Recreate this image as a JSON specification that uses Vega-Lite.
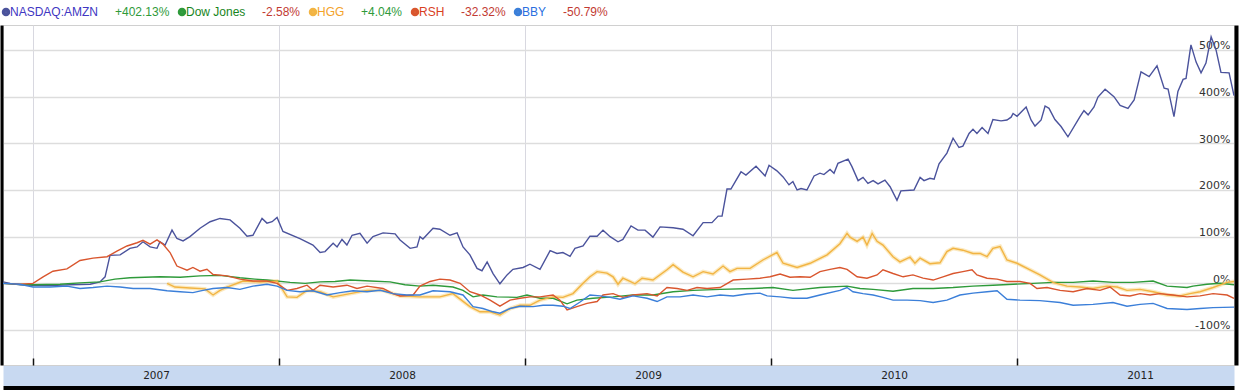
{
  "$schema": "https://vega.github.io/schema/vega-lite/v6.json",
  "width": 1231,
  "height": 340,
  "autosize": "none",
  "padding": {"left": 3, "top": 25, "right": 7, "bottom": 25},
  "background": "white",
  "config": {"view": {"stroke": "#d0d0d0", "strokeWidth": 1}},
  "resolve": {"axis": {"x": "independent", "y": "independent"}},
  "datasets": {
    "stocks": [
        {"stock":"NASDAQ:AMZN","time":2006.878,"pct":3},{"stock":"NASDAQ:AMZN","time":2006.907,"pct":0},{"stock":"NASDAQ:AMZN","time":2006.947,"pct":-3},{"stock":"NASDAQ:AMZN","time":2007.0,"pct":-4},{"stock":"NASDAQ:AMZN","time":2007.069,"pct":-5},{"stock":"NASDAQ:AMZN","time":2007.15,"pct":-3},{"stock":"NASDAQ:AMZN","time":2007.232,"pct":-2},{"stock":"NASDAQ:AMZN","time":2007.272,"pct":3},{"stock":"NASDAQ:AMZN","time":2007.293,"pct":14},{"stock":"NASDAQ:AMZN","time":2007.313,"pct":60},{"stock":"NASDAQ:AMZN","time":2007.354,"pct":61},{"stock":"NASDAQ:AMZN","time":2007.394,"pct":75},{"stock":"NASDAQ:AMZN","time":2007.423,"pct":78},{"stock":"NASDAQ:AMZN","time":2007.447,"pct":89},{"stock":"NASDAQ:AMZN","time":2007.476,"pct":78},{"stock":"NASDAQ:AMZN","time":2007.504,"pct":75},{"stock":"NASDAQ:AMZN","time":2007.516,"pct":89},{"stock":"NASDAQ:AMZN","time":2007.537,"pct":82},{"stock":"NASDAQ:AMZN","time":2007.565,"pct":114},{"stock":"NASDAQ:AMZN","time":2007.585,"pct":96},{"stock":"NASDAQ:AMZN","time":2007.61,"pct":91},{"stock":"NASDAQ:AMZN","time":2007.638,"pct":100},{"stock":"NASDAQ:AMZN","time":2007.679,"pct":118},{"stock":"NASDAQ:AMZN","time":2007.72,"pct":132},{"stock":"NASDAQ:AMZN","time":2007.76,"pct":139},{"stock":"NASDAQ:AMZN","time":2007.801,"pct":136},{"stock":"NASDAQ:AMZN","time":2007.841,"pct":118},{"stock":"NASDAQ:AMZN","time":2007.87,"pct":101},{"stock":"NASDAQ:AMZN","time":2007.894,"pct":103},{"stock":"NASDAQ:AMZN","time":2007.931,"pct":139},{"stock":"NASDAQ:AMZN","time":2007.951,"pct":129},{"stock":"NASDAQ:AMZN","time":2007.972,"pct":132},{"stock":"NASDAQ:AMZN","time":2007.992,"pct":141},{"stock":"NASDAQ:AMZN","time":2008.016,"pct":111},{"stock":"NASDAQ:AMZN","time":2008.085,"pct":96},{"stock":"NASDAQ:AMZN","time":2008.138,"pct":82},{"stock":"NASDAQ:AMZN","time":2008.167,"pct":66},{"stock":"NASDAQ:AMZN","time":2008.187,"pct":68},{"stock":"NASDAQ:AMZN","time":2008.22,"pct":86},{"stock":"NASDAQ:AMZN","time":2008.236,"pct":78},{"stock":"NASDAQ:AMZN","time":2008.256,"pct":94},{"stock":"NASDAQ:AMZN","time":2008.276,"pct":82},{"stock":"NASDAQ:AMZN","time":2008.297,"pct":103},{"stock":"NASDAQ:AMZN","time":2008.329,"pct":107},{"stock":"NASDAQ:AMZN","time":2008.358,"pct":86},{"stock":"NASDAQ:AMZN","time":2008.382,"pct":100},{"stock":"NASDAQ:AMZN","time":2008.423,"pct":108},{"stock":"NASDAQ:AMZN","time":2008.472,"pct":106},{"stock":"NASDAQ:AMZN","time":2008.492,"pct":93},{"stock":"NASDAQ:AMZN","time":2008.533,"pct":75},{"stock":"NASDAQ:AMZN","time":2008.561,"pct":78},{"stock":"NASDAQ:AMZN","time":2008.573,"pct":100},{"stock":"NASDAQ:AMZN","time":2008.585,"pct":95},{"stock":"NASDAQ:AMZN","time":2008.626,"pct":118},{"stock":"NASDAQ:AMZN","time":2008.654,"pct":116},{"stock":"NASDAQ:AMZN","time":2008.695,"pct":103},{"stock":"NASDAQ:AMZN","time":2008.724,"pct":108},{"stock":"NASDAQ:AMZN","time":2008.748,"pct":78},{"stock":"NASDAQ:AMZN","time":2008.776,"pct":61},{"stock":"NASDAQ:AMZN","time":2008.805,"pct":32},{"stock":"NASDAQ:AMZN","time":2008.825,"pct":27},{"stock":"NASDAQ:AMZN","time":2008.846,"pct":46},{"stock":"NASDAQ:AMZN","time":2008.87,"pct":21},{"stock":"NASDAQ:AMZN","time":2008.898,"pct":-1},{"stock":"NASDAQ:AMZN","time":2008.927,"pct":18},{"stock":"NASDAQ:AMZN","time":2008.951,"pct":30},{"stock":"NASDAQ:AMZN","time":2008.992,"pct":34},{"stock":"NASDAQ:AMZN","time":2009.02,"pct":41},{"stock":"NASDAQ:AMZN","time":2009.061,"pct":30},{"stock":"NASDAQ:AMZN","time":2009.102,"pct":70},{"stock":"NASDAQ:AMZN","time":2009.13,"pct":64},{"stock":"NASDAQ:AMZN","time":2009.154,"pct":66},{"stock":"NASDAQ:AMZN","time":2009.183,"pct":58},{"stock":"NASDAQ:AMZN","time":2009.203,"pct":75},{"stock":"NASDAQ:AMZN","time":2009.236,"pct":80},{"stock":"NASDAQ:AMZN","time":2009.264,"pct":101},{"stock":"NASDAQ:AMZN","time":2009.293,"pct":101},{"stock":"NASDAQ:AMZN","time":2009.317,"pct":114},{"stock":"NASDAQ:AMZN","time":2009.346,"pct":100},{"stock":"NASDAQ:AMZN","time":2009.378,"pct":89},{"stock":"NASDAQ:AMZN","time":2009.398,"pct":94},{"stock":"NASDAQ:AMZN","time":2009.431,"pct":123},{"stock":"NASDAQ:AMZN","time":2009.459,"pct":114},{"stock":"NASDAQ:AMZN","time":2009.488,"pct":114},{"stock":"NASDAQ:AMZN","time":2009.52,"pct":99},{"stock":"NASDAQ:AMZN","time":2009.549,"pct":121},{"stock":"NASDAQ:AMZN","time":2009.602,"pct":119},{"stock":"NASDAQ:AMZN","time":2009.642,"pct":116},{"stock":"NASDAQ:AMZN","time":2009.683,"pct":102},{"stock":"NASDAQ:AMZN","time":2009.724,"pct":130},{"stock":"NASDAQ:AMZN","time":2009.76,"pct":130},{"stock":"NASDAQ:AMZN","time":2009.785,"pct":144},{"stock":"NASDAQ:AMZN","time":2009.801,"pct":144},{"stock":"NASDAQ:AMZN","time":2009.821,"pct":202},{"stock":"NASDAQ:AMZN","time":2009.837,"pct":202},{"stock":"NASDAQ:AMZN","time":2009.878,"pct":239},{"stock":"NASDAQ:AMZN","time":2009.898,"pct":232},{"stock":"NASDAQ:AMZN","time":2009.939,"pct":251},{"stock":"NASDAQ:AMZN","time":2009.976,"pct":230},{"stock":"NASDAQ:AMZN","time":2009.992,"pct":253},{"stock":"NASDAQ:AMZN","time":2010.024,"pct":241},{"stock":"NASDAQ:AMZN","time":2010.049,"pct":228},{"stock":"NASDAQ:AMZN","time":2010.073,"pct":211},{"stock":"NASDAQ:AMZN","time":2010.089,"pct":218},{"stock":"NASDAQ:AMZN","time":2010.106,"pct":200},{"stock":"NASDAQ:AMZN","time":2010.122,"pct":203},{"stock":"NASDAQ:AMZN","time":2010.146,"pct":200},{"stock":"NASDAQ:AMZN","time":2010.175,"pct":230},{"stock":"NASDAQ:AMZN","time":2010.199,"pct":236},{"stock":"NASDAQ:AMZN","time":2010.215,"pct":233},{"stock":"NASDAQ:AMZN","time":2010.24,"pct":244},{"stock":"NASDAQ:AMZN","time":2010.256,"pct":236},{"stock":"NASDAQ:AMZN","time":2010.272,"pct":257},{"stock":"NASDAQ:AMZN","time":2010.313,"pct":266},{"stock":"NASDAQ:AMZN","time":2010.329,"pct":250},{"stock":"NASDAQ:AMZN","time":2010.354,"pct":220},{"stock":"NASDAQ:AMZN","time":2010.374,"pct":227},{"stock":"NASDAQ:AMZN","time":2010.394,"pct":214},{"stock":"NASDAQ:AMZN","time":2010.415,"pct":220},{"stock":"NASDAQ:AMZN","time":2010.435,"pct":213},{"stock":"NASDAQ:AMZN","time":2010.463,"pct":221},{"stock":"NASDAQ:AMZN","time":2010.484,"pct":207},{"stock":"NASDAQ:AMZN","time":2010.512,"pct":178},{"stock":"NASDAQ:AMZN","time":2010.528,"pct":198},{"stock":"NASDAQ:AMZN","time":2010.581,"pct":200},{"stock":"NASDAQ:AMZN","time":2010.606,"pct":227},{"stock":"NASDAQ:AMZN","time":2010.622,"pct":220},{"stock":"NASDAQ:AMZN","time":2010.646,"pct":225},{"stock":"NASDAQ:AMZN","time":2010.663,"pct":223},{"stock":"NASDAQ:AMZN","time":2010.683,"pct":256},{"stock":"NASDAQ:AMZN","time":2010.715,"pct":279},{"stock":"NASDAQ:AMZN","time":2010.74,"pct":311},{"stock":"NASDAQ:AMZN","time":2010.764,"pct":291},{"stock":"NASDAQ:AMZN","time":2010.78,"pct":294},{"stock":"NASDAQ:AMZN","time":2010.805,"pct":321},{"stock":"NASDAQ:AMZN","time":2010.821,"pct":330},{"stock":"NASDAQ:AMZN","time":2010.837,"pct":321},{"stock":"NASDAQ:AMZN","time":2010.858,"pct":334},{"stock":"NASDAQ:AMZN","time":2010.882,"pct":321},{"stock":"NASDAQ:AMZN","time":2010.902,"pct":351},{"stock":"NASDAQ:AMZN","time":2010.935,"pct":348},{"stock":"NASDAQ:AMZN","time":2010.959,"pct":350},{"stock":"NASDAQ:AMZN","time":2010.976,"pct":356},{"stock":"NASDAQ:AMZN","time":2010.984,"pct":364},{"stock":"NASDAQ:AMZN","time":2011.0,"pct":358},{"stock":"NASDAQ:AMZN","time":2011.037,"pct":378},{"stock":"NASDAQ:AMZN","time":2011.057,"pct":350},{"stock":"NASDAQ:AMZN","time":2011.073,"pct":337},{"stock":"NASDAQ:AMZN","time":2011.098,"pct":350},{"stock":"NASDAQ:AMZN","time":2011.114,"pct":380},{"stock":"NASDAQ:AMZN","time":2011.13,"pct":375},{"stock":"NASDAQ:AMZN","time":2011.154,"pct":351},{"stock":"NASDAQ:AMZN","time":2011.179,"pct":336},{"stock":"NASDAQ:AMZN","time":2011.207,"pct":314},{"stock":"NASDAQ:AMZN","time":2011.256,"pct":357},{"stock":"NASDAQ:AMZN","time":2011.272,"pct":370},{"stock":"NASDAQ:AMZN","time":2011.289,"pct":361},{"stock":"NASDAQ:AMZN","time":2011.313,"pct":378},{"stock":"NASDAQ:AMZN","time":2011.329,"pct":399},{"stock":"NASDAQ:AMZN","time":2011.358,"pct":416},{"stock":"NASDAQ:AMZN","time":2011.394,"pct":400},{"stock":"NASDAQ:AMZN","time":2011.419,"pct":381},{"stock":"NASDAQ:AMZN","time":2011.451,"pct":375},{"stock":"NASDAQ:AMZN","time":2011.476,"pct":393},{"stock":"NASDAQ:AMZN","time":2011.504,"pct":453},{"stock":"NASDAQ:AMZN","time":2011.537,"pct":443},{"stock":"NASDAQ:AMZN","time":2011.569,"pct":466},{"stock":"NASDAQ:AMZN","time":2011.598,"pct":418},{"stock":"NASDAQ:AMZN","time":2011.614,"pct":416},{"stock":"NASDAQ:AMZN","time":2011.638,"pct":357},{"stock":"NASDAQ:AMZN","time":2011.654,"pct":411},{"stock":"NASDAQ:AMZN","time":2011.675,"pct":437},{"stock":"NASDAQ:AMZN","time":2011.687,"pct":439},{"stock":"NASDAQ:AMZN","time":2011.707,"pct":511},{"stock":"NASDAQ:AMZN","time":2011.728,"pct":474},{"stock":"NASDAQ:AMZN","time":2011.748,"pct":451},{"stock":"NASDAQ:AMZN","time":2011.768,"pct":472},{"stock":"NASDAQ:AMZN","time":2011.789,"pct":528},{"stock":"NASDAQ:AMZN","time":2011.809,"pct":500},{"stock":"NASDAQ:AMZN","time":2011.829,"pct":452},{"stock":"NASDAQ:AMZN","time":2011.862,"pct":451},{"stock":"NASDAQ:AMZN","time":2011.882,"pct":402},
        {"stock":"Dow Jones","time":2006.878,"pct":0},{"stock":"Dow Jones","time":2006.927,"pct":-2},{"stock":"Dow Jones","time":2007.0,"pct":-3},{"stock":"Dow Jones","time":2007.11,"pct":-2},{"stock":"Dow Jones","time":2007.191,"pct":1},{"stock":"Dow Jones","time":2007.272,"pct":3},{"stock":"Dow Jones","time":2007.333,"pct":9},{"stock":"Dow Jones","time":2007.394,"pct":12},{"stock":"Dow Jones","time":2007.516,"pct":14},{"stock":"Dow Jones","time":2007.598,"pct":13},{"stock":"Dow Jones","time":2007.679,"pct":16},{"stock":"Dow Jones","time":2007.76,"pct":17},{"stock":"Dow Jones","time":2007.841,"pct":12},{"stock":"Dow Jones","time":2007.902,"pct":9},{"stock":"Dow Jones","time":2007.951,"pct":7},{"stock":"Dow Jones","time":2008.045,"pct":2},{"stock":"Dow Jones","time":2008.106,"pct":0},{"stock":"Dow Jones","time":2008.167,"pct":3},{"stock":"Dow Jones","time":2008.228,"pct":4},{"stock":"Dow Jones","time":2008.289,"pct":7},{"stock":"Dow Jones","time":2008.37,"pct":5},{"stock":"Dow Jones","time":2008.451,"pct":3},{"stock":"Dow Jones","time":2008.512,"pct":-3},{"stock":"Dow Jones","time":2008.573,"pct":-6},{"stock":"Dow Jones","time":2008.626,"pct":-4},{"stock":"Dow Jones","time":2008.707,"pct":-8},{"stock":"Dow Jones","time":2008.748,"pct":-15},{"stock":"Dow Jones","time":2008.789,"pct":-29},{"stock":"Dow Jones","time":2008.829,"pct":-25},{"stock":"Dow Jones","time":2008.886,"pct":-29},{"stock":"Dow Jones","time":2008.967,"pct":-30},{"stock":"Dow Jones","time":2009.008,"pct":-25},{"stock":"Dow Jones","time":2009.061,"pct":-32},{"stock":"Dow Jones","time":2009.114,"pct":-32},{"stock":"Dow Jones","time":2009.171,"pct":-44},{"stock":"Dow Jones","time":2009.211,"pct":-36},{"stock":"Dow Jones","time":2009.276,"pct":-32},{"stock":"Dow Jones","time":2009.358,"pct":-29},{"stock":"Dow Jones","time":2009.439,"pct":-25},{"stock":"Dow Jones","time":2009.52,"pct":-25},{"stock":"Dow Jones","time":2009.602,"pct":-18},{"stock":"Dow Jones","time":2009.683,"pct":-15},{"stock":"Dow Jones","time":2009.793,"pct":-13},{"stock":"Dow Jones","time":2009.927,"pct":-11},{"stock":"Dow Jones","time":2010.008,"pct":-9},{"stock":"Dow Jones","time":2010.089,"pct":-15},{"stock":"Dow Jones","time":2010.199,"pct":-9},{"stock":"Dow Jones","time":2010.309,"pct":-6},{"stock":"Dow Jones","time":2010.362,"pct":-11},{"stock":"Dow Jones","time":2010.415,"pct":-13},{"stock":"Dow Jones","time":2010.496,"pct":-17},{"stock":"Dow Jones","time":2010.577,"pct":-11},{"stock":"Dow Jones","time":2010.659,"pct":-11},{"stock":"Dow Jones","time":2010.74,"pct":-9},{"stock":"Dow Jones","time":2010.821,"pct":-6},{"stock":"Dow Jones","time":2010.902,"pct":-4},{"stock":"Dow Jones","time":2010.984,"pct":-2},{"stock":"Dow Jones","time":2011.065,"pct":0},{"stock":"Dow Jones","time":2011.146,"pct":2},{"stock":"Dow Jones","time":2011.228,"pct":2},{"stock":"Dow Jones","time":2011.309,"pct":5},{"stock":"Dow Jones","time":2011.39,"pct":2},{"stock":"Dow Jones","time":2011.472,"pct":2},{"stock":"Dow Jones","time":2011.553,"pct":5},{"stock":"Dow Jones","time":2011.61,"pct":-6},{"stock":"Dow Jones","time":2011.691,"pct":-9},{"stock":"Dow Jones","time":2011.715,"pct":-6},{"stock":"Dow Jones","time":2011.772,"pct":-2},{"stock":"Dow Jones","time":2011.825,"pct":0},{"stock":"Dow Jones","time":2011.882,"pct":-3},
        {"stock":"HGG","time":2007.545,"pct":0},{"stock":"HGG","time":2007.577,"pct":-8},{"stock":"HGG","time":2007.638,"pct":-10},{"stock":"HGG","time":2007.699,"pct":-12},{"stock":"HGG","time":2007.732,"pct":-25},{"stock":"HGG","time":2007.76,"pct":-15},{"stock":"HGG","time":2007.789,"pct":-8},{"stock":"HGG","time":2007.854,"pct":5},{"stock":"HGG","time":2007.923,"pct":3},{"stock":"HGG","time":2007.992,"pct":5},{"stock":"HGG","time":2008.033,"pct":-29},{"stock":"HGG","time":2008.073,"pct":-30},{"stock":"HGG","time":2008.114,"pct":-15},{"stock":"HGG","time":2008.167,"pct":-18},{"stock":"HGG","time":2008.22,"pct":-29},{"stock":"HGG","time":2008.289,"pct":-22},{"stock":"HGG","time":2008.358,"pct":-15},{"stock":"HGG","time":2008.423,"pct":-15},{"stock":"HGG","time":2008.492,"pct":-27},{"stock":"HGG","time":2008.573,"pct":-29},{"stock":"HGG","time":2008.654,"pct":-29},{"stock":"HGG","time":2008.707,"pct":-22},{"stock":"HGG","time":2008.776,"pct":-50},{"stock":"HGG","time":2008.817,"pct":-61},{"stock":"HGG","time":2008.858,"pct":-61},{"stock":"HGG","time":2008.898,"pct":-68},{"stock":"HGG","time":2008.939,"pct":-54},{"stock":"HGG","time":2008.98,"pct":-47},{"stock":"HGG","time":2009.02,"pct":-47},{"stock":"HGG","time":2009.061,"pct":-36},{"stock":"HGG","time":2009.114,"pct":-29},{"stock":"HGG","time":2009.154,"pct":-30},{"stock":"HGG","time":2009.195,"pct":-22},{"stock":"HGG","time":2009.236,"pct":0},{"stock":"HGG","time":2009.264,"pct":14},{"stock":"HGG","time":2009.293,"pct":25},{"stock":"HGG","time":2009.333,"pct":22},{"stock":"HGG","time":2009.358,"pct":14},{"stock":"HGG","time":2009.378,"pct":-2},{"stock":"HGG","time":2009.398,"pct":11},{"stock":"HGG","time":2009.427,"pct":4},{"stock":"HGG","time":2009.447,"pct":-1},{"stock":"HGG","time":2009.476,"pct":11},{"stock":"HGG","time":2009.52,"pct":7},{"stock":"HGG","time":2009.577,"pct":29},{"stock":"HGG","time":2009.602,"pct":40},{"stock":"HGG","time":2009.642,"pct":24},{"stock":"HGG","time":2009.683,"pct":14},{"stock":"HGG","time":2009.724,"pct":25},{"stock":"HGG","time":2009.764,"pct":20},{"stock":"HGG","time":2009.805,"pct":37},{"stock":"HGG","time":2009.833,"pct":25},{"stock":"HGG","time":2009.862,"pct":32},{"stock":"HGG","time":2009.915,"pct":32},{"stock":"HGG","time":2009.967,"pct":50},{"stock":"HGG","time":2010.024,"pct":66},{"stock":"HGG","time":2010.049,"pct":43},{"stock":"HGG","time":2010.106,"pct":34},{"stock":"HGG","time":2010.159,"pct":43},{"stock":"HGG","time":2010.228,"pct":61},{"stock":"HGG","time":2010.28,"pct":85},{"stock":"HGG","time":2010.309,"pct":107},{"stock":"HGG","time":2010.321,"pct":99},{"stock":"HGG","time":2010.35,"pct":90},{"stock":"HGG","time":2010.374,"pct":99},{"stock":"HGG","time":2010.39,"pct":82},{"stock":"HGG","time":2010.411,"pct":107},{"stock":"HGG","time":2010.431,"pct":90},{"stock":"HGG","time":2010.455,"pct":82},{"stock":"HGG","time":2010.496,"pct":57},{"stock":"HGG","time":2010.524,"pct":46},{"stock":"HGG","time":2010.565,"pct":56},{"stock":"HGG","time":2010.585,"pct":43},{"stock":"HGG","time":2010.606,"pct":54},{"stock":"HGG","time":2010.646,"pct":42},{"stock":"HGG","time":2010.687,"pct":44},{"stock":"HGG","time":2010.715,"pct":68},{"stock":"HGG","time":2010.74,"pct":75},{"stock":"HGG","time":2010.78,"pct":71},{"stock":"HGG","time":2010.821,"pct":64},{"stock":"HGG","time":2010.85,"pct":64},{"stock":"HGG","time":2010.878,"pct":57},{"stock":"HGG","time":2010.902,"pct":75},{"stock":"HGG","time":2010.931,"pct":79},{"stock":"HGG","time":2010.959,"pct":50},{"stock":"HGG","time":2011.0,"pct":43},{"stock":"HGG","time":2011.053,"pct":29},{"stock":"HGG","time":2011.093,"pct":18},{"stock":"HGG","time":2011.146,"pct":2},{"stock":"HGG","time":2011.203,"pct":-6},{"stock":"HGG","time":2011.256,"pct":-8},{"stock":"HGG","time":2011.309,"pct":-11},{"stock":"HGG","time":2011.366,"pct":-6},{"stock":"HGG","time":2011.407,"pct":-8},{"stock":"HGG","time":2011.447,"pct":-15},{"stock":"HGG","time":2011.5,"pct":-13},{"stock":"HGG","time":2011.553,"pct":-18},{"stock":"HGG","time":2011.61,"pct":-25},{"stock":"HGG","time":2011.663,"pct":-27},{"stock":"HGG","time":2011.703,"pct":-22},{"stock":"HGG","time":2011.744,"pct":-18},{"stock":"HGG","time":2011.797,"pct":-9},{"stock":"HGG","time":2011.854,"pct":2},{"stock":"HGG","time":2011.882,"pct":4},
        {"stock":"RSH","time":2006.878,"pct":0},{"stock":"RSH","time":2006.947,"pct":-2},{"stock":"RSH","time":2007.0,"pct":0},{"stock":"RSH","time":2007.041,"pct":14},{"stock":"RSH","time":2007.081,"pct":26},{"stock":"RSH","time":2007.138,"pct":31},{"stock":"RSH","time":2007.191,"pct":49},{"stock":"RSH","time":2007.244,"pct":54},{"stock":"RSH","time":2007.301,"pct":57},{"stock":"RSH","time":2007.341,"pct":69},{"stock":"RSH","time":2007.382,"pct":80},{"stock":"RSH","time":2007.423,"pct":87},{"stock":"RSH","time":2007.447,"pct":92},{"stock":"RSH","time":2007.476,"pct":84},{"stock":"RSH","time":2007.504,"pct":93},{"stock":"RSH","time":2007.528,"pct":84},{"stock":"RSH","time":2007.557,"pct":66},{"stock":"RSH","time":2007.585,"pct":37},{"stock":"RSH","time":2007.626,"pct":28},{"stock":"RSH","time":2007.65,"pct":34},{"stock":"RSH","time":2007.679,"pct":26},{"stock":"RSH","time":2007.707,"pct":30},{"stock":"RSH","time":2007.732,"pct":19},{"stock":"RSH","time":2007.789,"pct":16},{"stock":"RSH","time":2007.841,"pct":9},{"stock":"RSH","time":2007.894,"pct":5},{"stock":"RSH","time":2007.951,"pct":5},{"stock":"RSH","time":2007.992,"pct":0},{"stock":"RSH","time":2008.033,"pct":-15},{"stock":"RSH","time":2008.073,"pct":-11},{"stock":"RSH","time":2008.114,"pct":-4},{"stock":"RSH","time":2008.138,"pct":-15},{"stock":"RSH","time":2008.167,"pct":-4},{"stock":"RSH","time":2008.22,"pct":-8},{"stock":"RSH","time":2008.276,"pct":-4},{"stock":"RSH","time":2008.317,"pct":-11},{"stock":"RSH","time":2008.358,"pct":-6},{"stock":"RSH","time":2008.423,"pct":-11},{"stock":"RSH","time":2008.463,"pct":-22},{"stock":"RSH","time":2008.492,"pct":-27},{"stock":"RSH","time":2008.545,"pct":-25},{"stock":"RSH","time":2008.573,"pct":-6},{"stock":"RSH","time":2008.614,"pct":4},{"stock":"RSH","time":2008.654,"pct":9},{"stock":"RSH","time":2008.695,"pct":7},{"stock":"RSH","time":2008.736,"pct":0},{"stock":"RSH","time":2008.776,"pct":-18},{"stock":"RSH","time":2008.817,"pct":-25},{"stock":"RSH","time":2008.858,"pct":-36},{"stock":"RSH","time":2008.898,"pct":-49},{"stock":"RSH","time":2008.939,"pct":-36},{"stock":"RSH","time":2008.98,"pct":-32},{"stock":"RSH","time":2009.02,"pct":-29},{"stock":"RSH","time":2009.061,"pct":-29},{"stock":"RSH","time":2009.114,"pct":-25},{"stock":"RSH","time":2009.142,"pct":-36},{"stock":"RSH","time":2009.171,"pct":-57},{"stock":"RSH","time":2009.211,"pct":-50},{"stock":"RSH","time":2009.252,"pct":-43},{"stock":"RSH","time":2009.293,"pct":-39},{"stock":"RSH","time":2009.317,"pct":-25},{"stock":"RSH","time":2009.358,"pct":-22},{"stock":"RSH","time":2009.398,"pct":-30},{"stock":"RSH","time":2009.439,"pct":-25},{"stock":"RSH","time":2009.496,"pct":-22},{"stock":"RSH","time":2009.537,"pct":-27},{"stock":"RSH","time":2009.577,"pct":-9},{"stock":"RSH","time":2009.618,"pct":-11},{"stock":"RSH","time":2009.659,"pct":-15},{"stock":"RSH","time":2009.699,"pct":-9},{"stock":"RSH","time":2009.74,"pct":-11},{"stock":"RSH","time":2009.793,"pct":-9},{"stock":"RSH","time":2009.846,"pct":7},{"stock":"RSH","time":2009.902,"pct":9},{"stock":"RSH","time":2009.955,"pct":11},{"stock":"RSH","time":2009.996,"pct":14},{"stock":"RSH","time":2010.037,"pct":20},{"stock":"RSH","time":2010.077,"pct":13},{"stock":"RSH","time":2010.118,"pct":14},{"stock":"RSH","time":2010.159,"pct":13},{"stock":"RSH","time":2010.199,"pct":25},{"stock":"RSH","time":2010.24,"pct":30},{"stock":"RSH","time":2010.28,"pct":34},{"stock":"RSH","time":2010.309,"pct":30},{"stock":"RSH","time":2010.35,"pct":14},{"stock":"RSH","time":2010.39,"pct":11},{"stock":"RSH","time":2010.431,"pct":18},{"stock":"RSH","time":2010.455,"pct":29},{"stock":"RSH","time":2010.496,"pct":21},{"stock":"RSH","time":2010.537,"pct":14},{"stock":"RSH","time":2010.577,"pct":18},{"stock":"RSH","time":2010.618,"pct":11},{"stock":"RSH","time":2010.659,"pct":7},{"stock":"RSH","time":2010.699,"pct":14},{"stock":"RSH","time":2010.74,"pct":21},{"stock":"RSH","time":2010.78,"pct":25},{"stock":"RSH","time":2010.817,"pct":29},{"stock":"RSH","time":2010.837,"pct":18},{"stock":"RSH","time":2010.878,"pct":11},{"stock":"RSH","time":2010.919,"pct":9},{"stock":"RSH","time":2010.959,"pct":4},{"stock":"RSH","time":2011.012,"pct":4},{"stock":"RSH","time":2011.053,"pct":0},{"stock":"RSH","time":2011.081,"pct":-11},{"stock":"RSH","time":2011.122,"pct":-9},{"stock":"RSH","time":2011.175,"pct":-15},{"stock":"RSH","time":2011.228,"pct":-18},{"stock":"RSH","time":2011.285,"pct":-11},{"stock":"RSH","time":2011.337,"pct":-15},{"stock":"RSH","time":2011.378,"pct":-8},{"stock":"RSH","time":2011.419,"pct":-25},{"stock":"RSH","time":2011.459,"pct":-27},{"stock":"RSH","time":2011.5,"pct":-22},{"stock":"RSH","time":2011.541,"pct":-25},{"stock":"RSH","time":2011.581,"pct":-22},{"stock":"RSH","time":2011.634,"pct":-25},{"stock":"RSH","time":2011.691,"pct":-29},{"stock":"RSH","time":2011.744,"pct":-27},{"stock":"RSH","time":2011.797,"pct":-22},{"stock":"RSH","time":2011.854,"pct":-25},{"stock":"RSH","time":2011.882,"pct":-32},
        {"stock":"BBY","time":2006.878,"pct":0},{"stock":"BBY","time":2006.947,"pct":-2},{"stock":"BBY","time":2007.0,"pct":-8},{"stock":"BBY","time":2007.069,"pct":-8},{"stock":"BBY","time":2007.138,"pct":-6},{"stock":"BBY","time":2007.191,"pct":-11},{"stock":"BBY","time":2007.244,"pct":-9},{"stock":"BBY","time":2007.301,"pct":-6},{"stock":"BBY","time":2007.354,"pct":-8},{"stock":"BBY","time":2007.407,"pct":-11},{"stock":"BBY","time":2007.476,"pct":-11},{"stock":"BBY","time":2007.545,"pct":-16},{"stock":"BBY","time":2007.598,"pct":-18},{"stock":"BBY","time":2007.65,"pct":-20},{"stock":"BBY","time":2007.691,"pct":-15},{"stock":"BBY","time":2007.732,"pct":-11},{"stock":"BBY","time":2007.789,"pct":-9},{"stock":"BBY","time":2007.841,"pct":-13},{"stock":"BBY","time":2007.894,"pct":-6},{"stock":"BBY","time":2007.951,"pct":-2},{"stock":"BBY","time":2007.992,"pct":-6},{"stock":"BBY","time":2008.033,"pct":-15},{"stock":"BBY","time":2008.085,"pct":-18},{"stock":"BBY","time":2008.138,"pct":-16},{"stock":"BBY","time":2008.195,"pct":-25},{"stock":"BBY","time":2008.248,"pct":-20},{"stock":"BBY","time":2008.301,"pct":-16},{"stock":"BBY","time":2008.358,"pct":-18},{"stock":"BBY","time":2008.411,"pct":-15},{"stock":"BBY","time":2008.463,"pct":-22},{"stock":"BBY","time":2008.52,"pct":-25},{"stock":"BBY","time":2008.573,"pct":-25},{"stock":"BBY","time":2008.626,"pct":-16},{"stock":"BBY","time":2008.695,"pct":-18},{"stock":"BBY","time":2008.748,"pct":-25},{"stock":"BBY","time":2008.789,"pct":-50},{"stock":"BBY","time":2008.829,"pct":-54},{"stock":"BBY","time":2008.87,"pct":-61},{"stock":"BBY","time":2008.898,"pct":-64},{"stock":"BBY","time":2008.939,"pct":-54},{"stock":"BBY","time":2008.98,"pct":-49},{"stock":"BBY","time":2009.033,"pct":-50},{"stock":"BBY","time":2009.073,"pct":-47},{"stock":"BBY","time":2009.114,"pct":-47},{"stock":"BBY","time":2009.154,"pct":-49},{"stock":"BBY","time":2009.183,"pct":-54},{"stock":"BBY","time":2009.224,"pct":-40},{"stock":"BBY","time":2009.264,"pct":-25},{"stock":"BBY","time":2009.305,"pct":-27},{"stock":"BBY","time":2009.346,"pct":-30},{"stock":"BBY","time":2009.386,"pct":-34},{"stock":"BBY","time":2009.439,"pct":-27},{"stock":"BBY","time":2009.496,"pct":-32},{"stock":"BBY","time":2009.537,"pct":-39},{"stock":"BBY","time":2009.577,"pct":-29},{"stock":"BBY","time":2009.63,"pct":-29},{"stock":"BBY","time":2009.683,"pct":-25},{"stock":"BBY","time":2009.74,"pct":-29},{"stock":"BBY","time":2009.793,"pct":-25},{"stock":"BBY","time":2009.846,"pct":-27},{"stock":"BBY","time":2009.902,"pct":-23},{"stock":"BBY","time":2009.955,"pct":-21},{"stock":"BBY","time":2009.984,"pct":-27},{"stock":"BBY","time":2010.037,"pct":-29},{"stock":"BBY","time":2010.089,"pct":-32},{"stock":"BBY","time":2010.146,"pct":-32},{"stock":"BBY","time":2010.199,"pct":-25},{"stock":"BBY","time":2010.28,"pct":-15},{"stock":"BBY","time":2010.309,"pct":-9},{"stock":"BBY","time":2010.333,"pct":-18},{"stock":"BBY","time":2010.374,"pct":-22},{"stock":"BBY","time":2010.415,"pct":-25},{"stock":"BBY","time":2010.455,"pct":-30},{"stock":"BBY","time":2010.496,"pct":-36},{"stock":"BBY","time":2010.553,"pct":-36},{"stock":"BBY","time":2010.606,"pct":-37},{"stock":"BBY","time":2010.659,"pct":-41},{"stock":"BBY","time":2010.715,"pct":-36},{"stock":"BBY","time":2010.768,"pct":-25},{"stock":"BBY","time":2010.821,"pct":-21},{"stock":"BBY","time":2010.878,"pct":-18},{"stock":"BBY","time":2010.919,"pct":-16},{"stock":"BBY","time":2010.959,"pct":-34},{"stock":"BBY","time":2011.012,"pct":-36},{"stock":"BBY","time":2011.093,"pct":-37},{"stock":"BBY","time":2011.175,"pct":-41},{"stock":"BBY","time":2011.228,"pct":-47},{"stock":"BBY","time":2011.309,"pct":-45},{"stock":"BBY","time":2011.39,"pct":-41},{"stock":"BBY","time":2011.447,"pct":-49},{"stock":"BBY","time":2011.5,"pct":-45},{"stock":"BBY","time":2011.553,"pct":-43},{"stock":"BBY","time":2011.61,"pct":-54},{"stock":"BBY","time":2011.691,"pct":-56},{"stock":"BBY","time":2011.744,"pct":-54},{"stock":"BBY","time":2011.797,"pct":-52},{"stock":"BBY","time":2011.882,"pct":-51}
    ]
  },
  "layer": [
    {
      "data": {"name": "stocks"},
      "transform": [{"filter": "datum.stock === 'HGG'"}],
      "mark": {"type": "line", "strokeWidth": 4, "color": "#f8d890", "opacity": 0.55},
      "encoding": {
        "x": {"field": "time", "type": "quantitative", "axis": null},
        "y": {"field": "pct", "type": "quantitative", "axis": null}
      }
    },
    {
      "mark": {"type": "rule", "color": "#555555", "strokeWidth": 1.3},
      "encoding": {
        "x": {"datum": 2006.878, "type": "quantitative", "axis": {"orient": "bottom", "offset": 10.5, "domain": true, "domainColor": "#c8d9f1", "domainWidth": 20, "ticks": false, "labels": false, "grid": false, "title": null}},
        "x2": {"datum": 2011.882},
        "y": {"datum": 0, "type": "quantitative", "axis": {"orient": "left", "offset": 1.5, "domain": true, "domainColor": "#000000", "domainWidth": 3, "labels": false, "ticks": false, "grid": false, "title": null}}
      }
    },
    {
      "data": {"name": "stocks"},
      "mark": {"type": "line", "strokeWidth": 1.4},
      "encoding": {
        "x": {"field": "time", "type": "quantitative", "scale": {"domain": [2006.878, 2011.882], "nice": false, "zero": false}, "axis": {"orient": "bottom", "values": [2007, 2008, 2009, 2010, 2011], "grid": true, "gridColor": "#d8d8e0", "gridWidth": 1, "domain": false, "labels": false, "ticks": true, "tickSize": -7, "tickColor": "#111111", "tickWidth": 1.5, "title": null}},
        "y": {"field": "pct", "type": "quantitative", "scale": {"domain": [-175, 553.5], "nice": false, "zero": false}, "axis": {"orient": "right", "values": [-100, 0, 100, 200, 300, 400, 500], "labelExpr": "datum.value + '%'", "grid": true, "gridColor": "#dddddd", "gridWidth": 1.5, "ticks": false, "domain": false, "offset": 2, "labelAlign": "right", "labelPadding": -6, "labelBaseline": "alphabetic", "labelOffset": -1, "labelFont": "DejaVu Sans", "labelFontSize": 11, "labelColor": "#333333", "title": null}},
        "color": {
          "field": "stock", "type": "nominal",
          "scale": {"domain": ["NASDAQ:AMZN", "+402.13%", "Dow Jones", "-2.58%", "HGG", "+4.04%", "RSH", "-32.32%", "BBY", "-50.79%"], "range": ["#4b539c", "#ffffff", "#2e9a3a", "#ffffff", "#f2b443", "#ffffff", "#d9562e", "#ffffff", "#3b7fd9", "#ffffff"]},
          "legend": {
            "orient": "none", "legendX": -3, "legendY": -19, "direction": "horizontal", "columns": 10, "columnPadding": 1, "title": null,
            "symbolType": "circle", "symbolSize": 16, "symbolStrokeWidth": 4.5, "labelFont": "Liberation Sans", "labelFontSize": 12, "labelOffset": -2, "labelLimit": 300,
            "labelColor": {"expr": "datum.value==='NASDAQ:AMZN'?'#4036c2':datum.value==='Dow Jones'?'#17851c':datum.value==='HGG'?'#f3a22a':datum.value==='RSH'?'#d9401e':datum.value==='BBY'?'#2a6fe0':(indexof(datum.value,'+')===0?'#2f9a3a':'#c23a32')"}
          }
        }
      }
    },
    {
      "mark": {"type": "rule", "opacity": 0},
      "encoding": {
        "x": {"datum": 2006.878, "type": "quantitative", "axis": {"orient": "bottom", "offset": 23, "values": [2007, 2008, 2009, 2010, 2011], "format": "d", "domain": true, "domainColor": "#000000", "domainWidth": 5, "ticks": false, "tickSize": 0, "grid": false, "labels": true, "labelOffset": 123, "labelPadding": -12.5, "labelBaseline": "middle", "labelFont": "DejaVu Sans", "labelFontSize": 10.5, "labelColor": "#222222", "labelFlush": false, "labelOverlap": false, "labelBound": false, "title": null}},
        "x2": {"datum": 2011.882},
        "y": {"datum": 0, "type": "quantitative", "axis": {"orient": "right", "offset": 2, "domain": true, "domainColor": "#000000", "domainWidth": 4, "labels": false, "ticks": false, "grid": false, "title": null}}
      }
    }
  ]
}
